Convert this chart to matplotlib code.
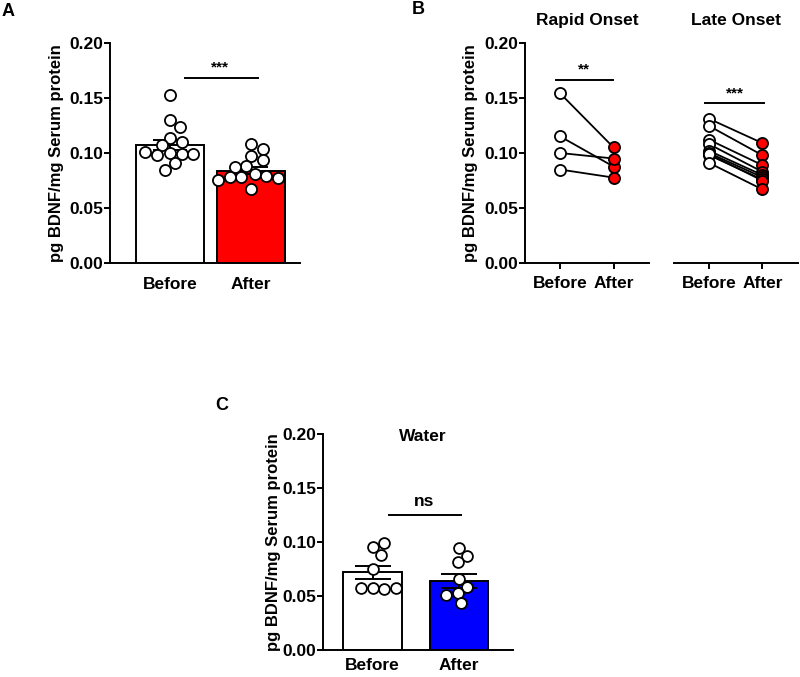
import numpy as np
import matplotlib.pyplot as plt

plt.rcParams['font.family'] = ['Liberation Sans', 'DejaVu Sans']
plt.rcParams['font.weight'] = 'bold'
plt.rcParams['axes.labelweight'] = 'bold'

# data
groups = ['Before', 'After']

a_before = [0.153, 0.130, 0.124, 0.114, 0.110, 0.107, 0.100, 0.099, 0.098, 0.099, 0.101, 0.091, 0.085]
a_after = [0.108, 0.104, 0.097, 0.094, 0.088, 0.087, 0.081, 0.079, 0.0785, 0.078, 0.077, 0.0755, 0.067]
a_mean = [0.107, 0.084]
a_sem = [0.0045, 0.0032]

rapid_before = [0.154, 0.115, 0.100, 0.085]
rapid_after = [0.105, 0.0877, 0.095, 0.0777]

late_before = [0.131, 0.1245, 0.112, 0.108, 0.102, 0.100, 0.098, 0.099, 0.091]
late_after = [0.109, 0.098, 0.089, 0.083, 0.080, 0.078, 0.076, 0.075, 0.067]

c_before = [0.0958, 0.0995, 0.088, 0.0748, 0.0572, 0.0563, 0.0572, 0.0572]
c_after = [0.0949, 0.0875, 0.0813, 0.0655, 0.0587, 0.0531, 0.051, 0.0433]
c_mean = [0.072, 0.0643]
c_sem = [0.0058, 0.0065]

ylabel = 'pg BDNF/mg Serum protein'
yticks = [0.0, 0.05, 0.10, 0.15, 0.20]
FS = 12.5


def swarm(ax, values, center, diam_px):
    # simple beeswarm: nearest free horizontal slot for each point
    bb = ax.get_window_extent()
    x0, x1 = ax.get_xlim()
    y0, y1 = ax.get_ylim()
    sx = bb.width / (x1 - x0)
    sy = bb.height / (y1 - y0)
    placed = []
    xs = []
    for v in values:
        y = v * sy
        step = diam_px * 0.15
        k = 0
        while True:
            off = ((k + 1) // 2) * step * (1 if k % 2 == 1 else -1)
            if all((off - px) ** 2 + (y - py) ** 2 >= (diam_px * 1.0) ** 2 for px, py in placed):
                break
            k += 1
        placed.append((off, y))
        xs.append(center + off / sx)
    return xs


def style(ax, xticklen=0, xpad=4):
    for s in ['top', 'right']:
        ax.spines[s].set_visible(False)
    for s in ['left', 'bottom']:
        ax.spines[s].set_linewidth(1.4)
    ax.set_ylim(0, 0.2)
    ax.set_yticks(yticks)
    ax.set_yticklabels(['%.2f' % t for t in yticks])
    ax.tick_params(axis='y', length=4, width=1.4, labelsize=FS, pad=1)
    ax.tick_params(axis='x', length=xticklen, width=1.4, labelsize=FS, pad=xpad)
    ax.set_xticks([0, 1])
    ax.set_xticklabels(groups)


fig = plt.figure(figsize=(8, 6.77), dpi=100)
W, H = 800.0, 677.0

# ---- A ----
axA = fig.add_axes([110 / W, 1 - 263 / H, 190 / W, 220 / H])
axA.set_xlim(-0.74, 1.6)
style(axA, xpad=10)
axA.bar([0, 1], a_mean, width=0.84, color=['white', '#ff0000'], edgecolor='black', linewidth=1.4, zorder=2)
axA.errorbar([0, 1], a_mean, yerr=a_sem, fmt='none', ecolor='black', elinewidth=1.4,
             capsize=12, capthick=1.4, zorder=3)
for i, vals in enumerate([a_before, a_after]):
    axA.plot(swarm(axA, vals, i, 11), vals, 'o', ms=8, mfc='white', mec='black', mew=1.3,
             zorder=4, clip_on=False)
axA.plot([0.185, 1.086], [0.168, 0.168], color='black', lw=1.4)
axA.text(0.62, 0.171, '***', ha='center', va='bottom', fontsize=11)
axA.set_ylabel(ylabel, fontsize=12, labelpad=4)

# ---- B ----
panels = [('Rapid Onset', rapid_before, rapid_after),
          ('Late Onset', late_before, late_after)]
axR = fig.add_axes([525 / W, 1 - 263.3 / H, 124.3 / W, 220.6 / H])
axL = fig.add_axes([674 / W, 1 - 263.3 / H, 124 / W, 220.6 / H])
for ax, (title, bef, aft) in zip([axR, axL], panels):
    ax.set_xlim(-0.66, 1.67)
    style(ax, xticklen=4, xpad=5)
    for b, a in zip(bef, aft):
        ax.plot([0, 1], [b, a], color='black', lw=1.3, zorder=2)
    ax.plot([0] * len(bef), bef, 'o', ms=8, mfc='white', mec='black', mew=1.3, zorder=3)
    ax.plot([1] * len(aft), aft, 'o', ms=8, mfc='#ff0000', mec='black', mew=1.3, zorder=3)
    ax.text(0.5, 1.065, title, transform=ax.transAxes, ha='center', va='bottom', fontsize=FS)
axL.spines['left'].set_visible(False)
axL.tick_params(axis='y', left=False, labelleft=False)
axR.set_ylabel(ylabel, fontsize=12, labelpad=4)
axR.plot([-0.08, 0.99], [0.166, 0.166], color='black', lw=1.4)
axR.text(0.45, 0.169, '**', ha='center', va='bottom', fontsize=11)
axL.plot([-0.075, 1.03], [0.145, 0.145], color='black', lw=1.4)
axL.text(0.48, 0.148, '***', ha='center', va='bottom', fontsize=11)

# ---- C ----
axC = fig.add_axes([323 / W, 1 - 650 / H, 189.7 / W, 215.7 / H])
axC.set_xlim(-0.571, 1.617)
style(axC, xpad=6)
axC.bar([0, 1], c_mean, width=0.674, color=['white', '#0000ff'], edgecolor='black', linewidth=1.4, zorder=2)
axC.errorbar([0, 1], c_mean, yerr=c_sem, fmt='none', ecolor='black', elinewidth=1.4,
             capsize=13, capthick=1.4, zorder=3)
for i, vals in enumerate([c_before, c_after]):
    axC.plot(swarm(axC, vals, i, 11), vals, 'o', ms=7.8, mfc='white', mec='black', mew=1.3, zorder=4)
axC.plot([0.19, 1.017], [0.125, 0.125], color='black', lw=1.4)
axC.text(0.6, 0.131, 'ns', ha='center', va='bottom', fontsize=FS)
axC.text(0.58, 0.1975, 'Water', ha='center', va='center', fontsize=FS)
axC.set_ylabel(ylabel, fontsize=12, labelpad=1)

# panel letters
fig.text(8 / W, 1 - 12 / H, 'A', ha='center', va='center', fontsize=13)
fig.text(418 / W, 1 - 10 / H, 'B', ha='center', va='center', fontsize=13)
fig.text(222 / W, 1 - 405 / H, 'C', ha='center', va='center', fontsize=13)

fig.savefig('out.png', dpi=100)
